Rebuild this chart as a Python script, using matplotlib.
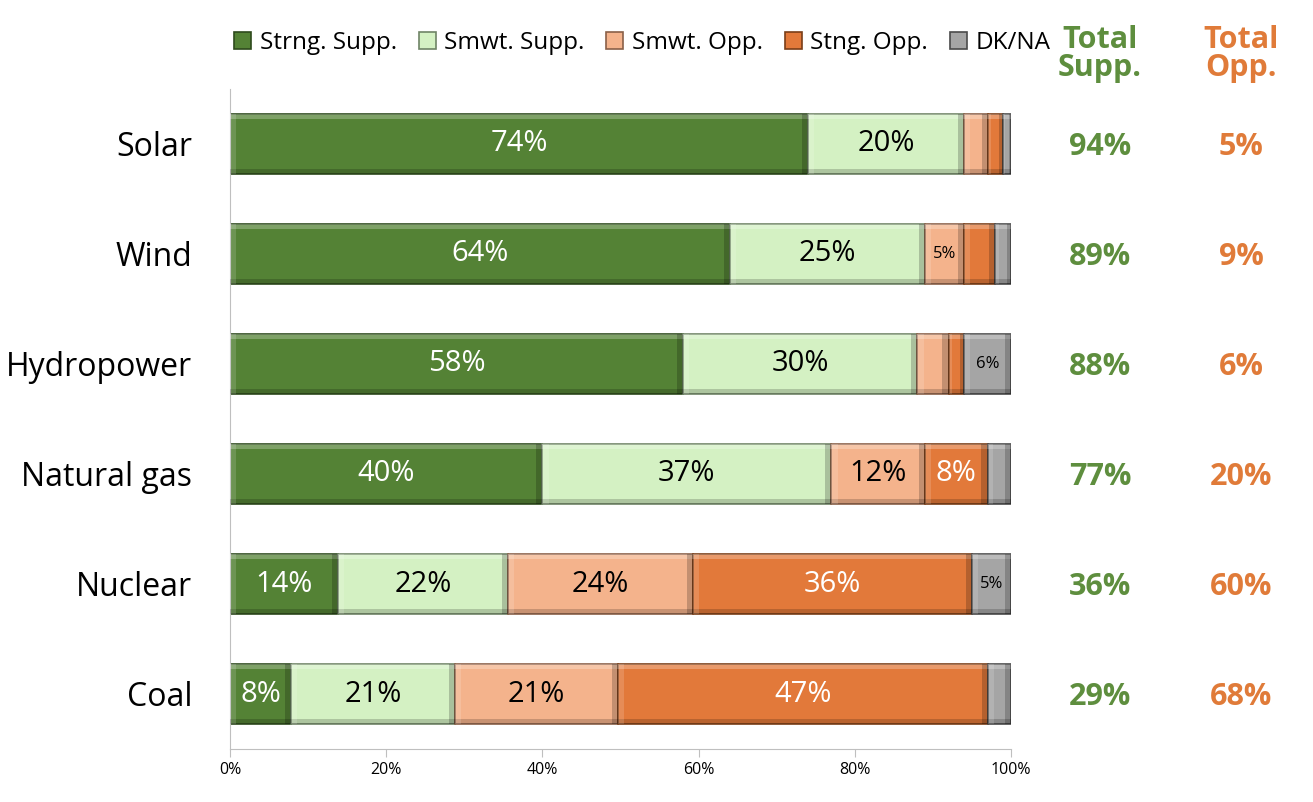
import numpy as np
import matplotlib
matplotlib.use("Agg")
import matplotlib.pyplot as plt
from matplotlib.patches import Rectangle
from matplotlib.ticker import FuncFormatter

# data (bottom to top)
sources = ["Coal", "Nuclear", "Natural gas", "Hydropower", "Wind", "Solar"]
strong_supp = [7.8, 13.8, 40, 58, 64, 74]
smwt_supp = [21, 21.8, 37, 30, 25, 20]
smwt_opp = [20.9, 23.7, 12, 4, 5, 3]
strong_opp = [47.4, 35.7, 8, 2, 4, 2]
dk_na = [2.9, 5, 3, 6, 2, 1]
total_supp = [29, 36, 77, 88, 89, 94]
total_opp = [68, 60, 20, 6, 9, 5]
series_names = ["Strng. Supp.", "Smwt. Supp.", "Smwt. Opp.", "Stng. Opp.", "DK/NA"]

colors = ["#548235", "#D4F1C3", "#F4B38C", "#E2793A", "#A5A5A5"]
edges = ["#2E4A1C", "#6F8466", "#8A6048", "#7A3E18", "#4A4A4A"]
text_colors = ["white", "black", "black", "white", "black"]
green = "#5E8E3E"
orange = "#E07B39"

plt.rcParams['font.family'] = ['Open Sans', 'DejaVu Sans']

fig = plt.figure(figsize=(13.13, 8.02), dpi=100)
W, H = 1313, 802
ax = fig.add_axes([230 / W, 1 - 749 / H, (1011 - 230) / W, (749 - 89) / H])

bh = 0.55
band = 0.05   # bevel thickness in y units
y = np.arange(len(sources))
series = [strong_supp, smwt_supp, smwt_opp, strong_opp, dk_na]
left = np.zeros(len(sources))
handles = []
for vals, name, c, ec, tc in zip(series, series_names, colors, edges, text_colors):
    vals = np.array(vals, dtype=float)
    b = ax.barh(y, vals, left=left, height=bh, color=c, edgecolor=ec,
                linewidth=1.2, label=name, zorder=2)
    handles.append(b)
    for yi, l, v in zip(y, left, vals):
        # simple bevel: light top / left, dark bottom / right
        sw = min(0.8, v / 4)
        ax.add_patch(Rectangle((l, yi + bh / 2 - band), v, band, color="white",
                               alpha=0.25, lw=0, zorder=3))
        ax.add_patch(Rectangle((l, yi - bh / 2), v, band, color="black",
                               alpha=0.18, lw=0, zorder=3))
        ax.add_patch(Rectangle((l, yi - bh / 2), sw, bh, color="white",
                               alpha=0.15, lw=0, zorder=3))
        ax.add_patch(Rectangle((l + v - sw, yi - bh / 2), sw, bh, color="black",
                               alpha=0.2, lw=0, zorder=3))
        if v >= 4.5:
            fs = 12 if v < 7 else 21
            ax.text(l + v / 2, yi, f"{v:.0f}%", ha="center", va="center",
                    color=tc, fontsize=fs, zorder=4)
    left += vals

ax.set_xlim(0, 100)
ax.set_ylim(-0.5, len(sources) - 0.5)
ax.set_yticks(y)
ax.set_yticklabels(sources, fontsize=23)
ax.tick_params(axis="y", length=0, pad=27)
ax.set_xticks(np.arange(0, 101, 20))
ax.xaxis.set_major_formatter(FuncFormatter(lambda v, p: f"{int(v)}%"))
ax.tick_params(axis="x", labelsize=11.5, length=6, color="#BFBFBF", direction="out")
for s in ["top", "right"]:
    ax.spines[s].set_visible(False)
ax.spines["left"].set_color("#BFBFBF")
ax.spines["bottom"].set_color("#BFBFBF")

# totals columns
x_supp = 1100 / W
x_opp = 1241 / W
fig.text(x_supp, 1 - 54 / H, "Total\nSupp.", ha="center", va="center",
         color=green, fontsize=22, fontweight="bold", linespacing=0.9)
fig.text(x_opp, 1 - 54 / H, "Total\nOpp.", ha="center", va="center",
         color=orange, fontsize=22, fontweight="bold", linespacing=0.9)
ax_w = (1011 - 230) / W
for yi, ts, to in zip(y, total_supp, total_opp):
    yy = yi - 0.03
    ax.text(1.0 + (x_supp - 1011 / W) / ax_w, yy, f"{ts}%",
            transform=ax.get_yaxis_transform(), ha="center", va="center",
            color=green, fontsize=22, fontweight="bold")
    ax.text(1.0 + (x_opp - 1011 / W) / ax_w, yy, f"{to}%",
            transform=ax.get_yaxis_transform(), ha="center", va="center",
            color=orange, fontsize=22, fontweight="bold")

fig.legend(handles=handles, loc="center left", bbox_to_anchor=(234 / W, 1 - 43 / H),
           ncol=5, frameon=False, fontsize=17.5, handlelength=0.7, handleheight=0.7,
           handletextpad=0.35, columnspacing=0.9, borderaxespad=0, borderpad=0)

fig.savefig("out.png", dpi=100)
